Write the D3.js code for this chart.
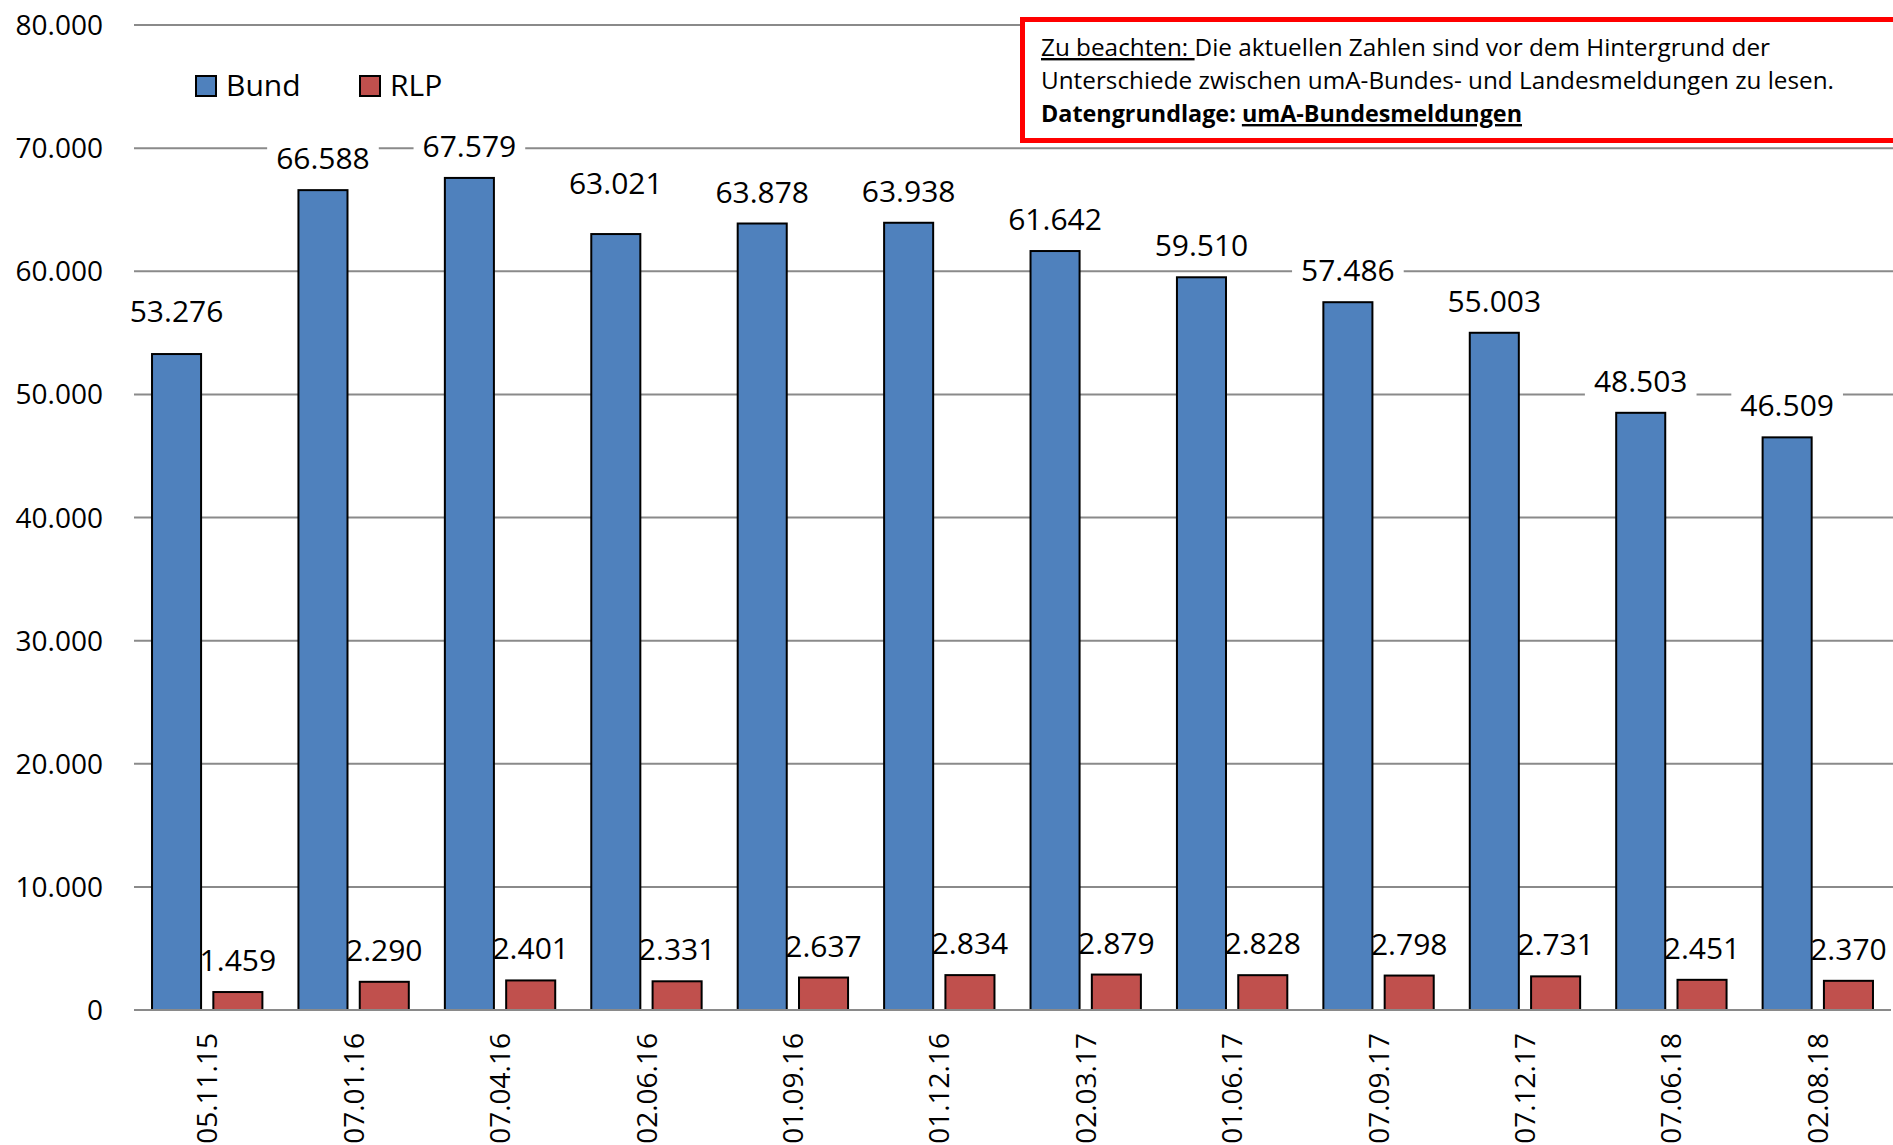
<!DOCTYPE html>
<html lang="de">
<head>
<meta charset="utf-8">
<title>umA – Bund und RLP</title>
<script src="https://cdn.jsdelivr.net/npm/d3@7"></script>
<style>
  html, body { margin: 0; padding: 0; background: #fff; }
  svg { display: block; font-family: "Open Sans", "Noto Sans", sans-serif; }
</style>
</head>
<body>
<svg id="chart" width="1893" height="1145"></svg>
<script>
// Stichtage der Meldungen
const categories = ["05.11.15", "07.01.16", "07.04.16", "02.06.16", "01.09.16", "01.12.16",
                    "02.03.17", "01.06.17", "07.09.17", "07.12.17", "07.06.18", "02.08.18"];
// Anzahl umA bundesweit
const bund = [53276, 66588, 67579, 63021, 63878, 63938, 61642, 59510, 57486, 55003, 48503, 46509];
// Anzahl umA in Rheinland-Pfalz
const rlp = [1459, 2290, 2401, 2331, 2637, 2834, 2879, 2828, 2798, 2731, 2451, 2370];
// Achsenbeschriftung
const yTicks = [0, 10000, 20000, 30000, 40000, 50000, 60000, 70000, 80000];
const seriesNames = ["Bund", "RLP"];

// Abstand der Bund-Beschriftung über dem Balken (px)
const bundLabelLift = [32, 21, 21, 40, 21, 21, 21, 21, 21, 21, 21, 21];

const colors = { Bund: "#4F81BD", RLP: "#C0504D" };
const de = d3.formatLocale({ decimal: ",", thousands: ".", grouping: [3], currency: ["", " €"] });
const fmt = de.format(",d");

const svg = d3.select("#chart");
const plotLeft = 134, plotRight = 1891, plotTop = 25, plotBottom = 1010;

const x0 = d3.scaleBand().domain(categories).range([plotLeft, plotRight]).paddingInner(0).paddingOuter(0);
const x1 = d3.scaleBand().domain(seriesNames).range([0, x0.bandwidth()])
  .paddingInner(0.2).paddingOuter(0.294);
const y = d3.scaleLinear().domain([0, 80000]).range([plotBottom, plotTop]);

// Gitternetzlinien
svg.append("g").selectAll("line")
  .data(yTicks.filter(d => d > 0))
  .join("line")
  .attr("x1", plotLeft).attr("x2", 1893)
  .attr("y1", d => y(d)).attr("y2", d => y(d))
  .attr("stroke", "#8a8a8a").attr("stroke-width", 2);

// y-Achsenbeschriftung
svg.append("g").selectAll("text")
  .data(yTicks)
  .join("text")
  .attr("x", 103).attr("y", d => y(d))
  .attr("dy", "0.36em")
  .attr("text-anchor", "end")
  .attr("font-size", 28)
  .attr("fill", "#000")
  .text(d => fmt(d));

// Datenbeschriftungen mit weißem Hintergrund
const labelLayer = svg.append("g");
const rows = categories.map((c, i) => ({ c, i, bund: bund[i], rlp: rlp[i] }));

function addLabel(g, cx, baseline, txt) {
  const grp = g.append("g");
  const t = grp.append("text")
    .attr("x", cx).attr("y", baseline)
    .attr("text-anchor", "middle")
    .attr("font-size", 30)
    .attr("fill", "#000")
    .text(txt);
  const bb = t.node().getBBox();
  grp.insert("rect", "text")
    .attr("x", bb.x - 9).attr("y", bb.y + 2)
    .attr("width", bb.width + 18).attr("height", bb.height - 4)
    .attr("fill", "#fff");
}

rows.forEach(r => {
  const bx = x0(r.c) + x1("Bund") + x1.bandwidth() / 2;
  addLabel(labelLayer, bx, y(r.bund) - bundLabelLift[r.i], fmt(r.bund));
  const rx = x0(r.c) + x1("RLP") + x1.bandwidth() / 2;
  addLabel(labelLayer, rx, y(r.rlp) - 21, fmt(r.rlp));
});

// Balken
const groups = svg.append("g").selectAll("g")
  .data(rows)
  .join("g")
  .attr("transform", d => `translate(${x0(d.c)},0)`);

groups.selectAll("rect")
  .data(d => seriesNames.map(s => ({ s, v: s === "Bund" ? d.bund : d.rlp })))
  .join("rect")
  .attr("x", d => x1(d.s))
  .attr("width", x1.bandwidth())
  .attr("y", d => y(d.v))
  .attr("height", d => y(0) - y(d.v))
  .attr("fill", d => colors[d.s])
  .attr("stroke", "#000")
  .attr("stroke-width", 2);

// Nulllinie
svg.append("line")
  .attr("x1", plotLeft).attr("x2", plotRight)
  .attr("y1", y(0)).attr("y2", y(0))
  .attr("stroke", "#8a8a8a").attr("stroke-width", 2);

// x-Achsenbeschriftung (gedreht)
svg.append("g").selectAll("text")
  .data(categories)
  .join("text")
  .attr("transform", d => `translate(${x0(d) + x0.bandwidth() / 2},1033) rotate(-90)`)
  .attr("text-anchor", "end")
  .attr("dy", "0.36em")
  .attr("font-size", 28)
  .attr("fill", "#000")
  .text(d => d);

// Legende
const legend = svg.append("g");
const legendItems = [{ s: "Bund", x: 195 }, { s: "RLP", x: 359 }];
legendItems.forEach(it => {
  legend.append("rect")
    .attr("x", it.x + 1).attr("y", 76).attr("width", 20).attr("height", 20)
    .attr("fill", colors[it.s]).attr("stroke", "#000").attr("stroke-width", 2);
  legend.append("text")
    .attr("x", it.x + 31).attr("y", 96)
    .attr("font-size", 30).attr("fill", "#000")
    .text(it.s);
});

// Hinweisbox
const note = svg.append("g");
note.append("rect")
  .attr("x", 1022.5).attr("y", 19.5)
  .attr("width", 900).attr("height", 121)
  .attr("fill", "#fff").attr("stroke", "#ff0000").attr("stroke-width", 5);

const l1 = note.append("text").attr("x", 1041).attr("y", 56).attr("font-size", 24).attr("fill", "#000");
l1.append("tspan").attr("text-decoration", "underline").text("Zu beachten:\u00a0");
l1.append("tspan").text("Die aktuellen Zahlen sind vor dem Hintergrund der");

const l2 = note.append("text").attr("x", 1041).attr("y", 89).attr("font-size", 24).attr("fill", "#000")
  .text("Unterschiede zwischen umA-Bundes- und Landesmeldungen zu lesen.");

const l3 = note.append("text").attr("x", 1041).attr("y", 122).attr("font-size", 24)
  .attr("font-weight", "bold").attr("fill", "#000");
l3.append("tspan").text("Datengrundlage:\u00a0");
l3.append("tspan").attr("text-decoration", "underline").text("umA-Bundesmeldungen");

// Zeilenbreiten an die Box anpassen
[[l1, 729], [l2, 793], [l3, 481]].forEach(([t, w]) => {
  t.attr("textLength", w).attr("lengthAdjust", "spacingAndGlyphs");
});
</script>
</body>
</html>
